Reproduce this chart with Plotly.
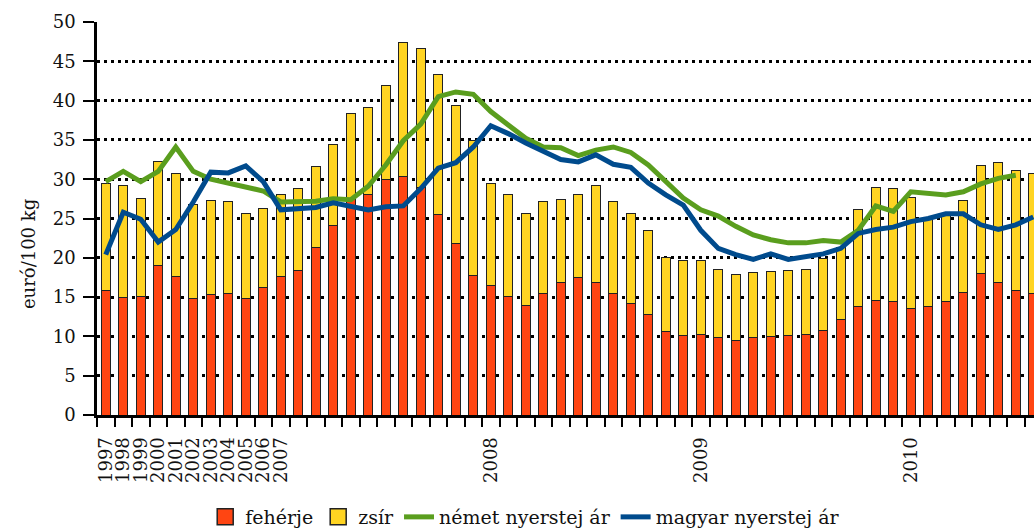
import plotly.graph_objects as go

# ---------------- data ----------------
years = ["1997", "1998", "1999", "2000", "2001", "2002", "2003", "2004", "2005", "2006", "2007"]
months = (["2007." + f"{m:02d}" for m in range(2, 13)] +
          ["2008." + f"{m:02d}" for m in range(1, 13)] +
          ["2009." + f"{m:02d}" for m in range(1, 13)] +
          ["2010." + f"{m:02d}" for m in range(1, 9)])
categories = years + months

tick_labels = {"1997": "1997", "1998": "1998", "1999": "1999", "2000": "2000", "2001": "2001",
               "2002": "2002", "2003": "2003", "2004": "2004", "2005": "2005", "2006": "2006",
               "2007": "2007", "2008.01": "2008", "2009.01": "2009", "2010.01": "2010"}

feherje = [15.8, 15.0, 15.1, 19.0, 17.6, 14.8, 15.3, 15.5, 14.8, 16.2, 17.6,
           18.4, 21.3, 24.1, 27.5, 28.0, 30.0, 30.3, 29.0, 25.5, 21.8, 17.7,
           16.5, 15.1, 13.9, 15.5, 16.9, 17.5, 16.8, 15.4, 14.2, 12.8, 10.6, 10.1,
           10.2, 9.9, 9.5, 9.8, 10.0, 10.1, 10.3, 10.8, 12.2, 13.8, 14.6, 14.4,
           13.6, 13.8, 14.5, 15.6, 18.0, 16.8, 15.8, 15.4]

zsir = [13.6, 14.2, 12.5, 13.2, 13.1, 12.0, 12.0, 11.7, 10.9, 10.1, 10.5,
        10.4, 10.3, 10.3, 10.8, 11.1, 11.9, 17.1, 17.6, 17.8, 17.6, 17.2,
        12.9, 12.9, 11.8, 11.6, 10.5, 10.5, 12.4, 11.8, 11.5, 10.7, 9.5, 9.5,
        9.5, 8.6, 8.4, 8.3, 8.2, 8.3, 8.2, 9.1, 9.1, 12.4, 14.4, 14.4,
        14.1, 11.2, 11.1, 11.7, 13.8, 15.3, 15.3, 15.3]

nemet = [29.7, 31.0, 29.7, 31.0, 34.1, 31.0, 30.0, 29.5, 28.9, 28.5, 27.1,
         27.2, 27.2, 27.5, 27.4, 29.1, 31.8, 34.9, 37.0, 40.5, 41.1, 40.8,
         38.6, 36.9, 35.2, 34.1, 34.0, 33.0, 33.7, 34.1, 33.4, 31.8, 29.7, 27.6,
         26.1, 25.3, 24.0, 22.9, 22.3, 21.9, 21.9, 22.2, 22.0, 23.5, 26.6, 25.9,
         28.4, 28.2, 28.0, 28.4, 29.4, 30.1, 30.5, None]

magyar = [20.4, 25.8, 24.9, 22.0, 23.6, 27.1, 30.9, 30.8, 31.7, 29.7, 26.1,
          26.3, 26.4, 27.0, 26.6, 26.1, 26.5, 26.6, 28.8, 31.4, 32.1, 34.1,
          36.8, 35.8, 34.6, 33.6, 32.5, 32.2, 33.1, 31.9, 31.5, 29.5, 28.0, 26.7,
          23.5, 21.2, 20.4, 19.8, 20.5, 19.8, 20.1, 20.5, 21.2, 23.1, 23.6, 23.9,
          24.6, 25.0, 25.6, 25.6, 24.2, 23.6, 24.2, 25.2]

# ---------------- styles ----------------
RED = "#FF4512"
YELLOW = "#FFD422"
GREEN = "#5A9E1E"
BLUE = "#004B8D"
FONT = "DejaVu Serif"
FS = 18

fig = go.Figure()
fig.add_trace(go.Bar(x=categories, y=feherje, name="fehérje", marker_color=RED,
                     marker_line=dict(color="#222222", width=1), showlegend=False))
fig.add_trace(go.Bar(x=categories, y=zsir, name="zsír", marker_color=YELLOW,
                     marker_line=dict(color="#222222", width=1), showlegend=False))
fig.add_trace(go.Scatter(x=categories, y=nemet, name="német nyerstej ár", mode="lines",
                         line=dict(color=GREEN, width=5), showlegend=False))
fig.add_trace(go.Scatter(x=categories, y=magyar, name="magyar nyerstej ár", mode="lines",
                         line=dict(color=BLUE, width=5), showlegend=False))

# legend entries
for nm, col in [("fehérje", RED), ("zsír", YELLOW)]:
    fig.add_trace(go.Scatter(x=[None], y=[None], name=nm, mode="markers",
                             marker=dict(symbol="square", size=16, color=col,
                                         line=dict(color="#222222", width=1.5))))
for nm, col in [("német nyerstej ár", GREEN), ("magyar nyerstej ár", BLUE)]:
    fig.add_trace(go.Scatter(x=[None], y=[None], name=nm, mode="lines",
                             line=dict(color=col, width=5)))

fig.update_layout(
    barmode="stack",
    bargap=0.5,
    width=1034, height=530, autosize=False,
    margin=dict(l=97, r=0, t=22, b=115),
    plot_bgcolor="white", paper_bgcolor="white",
    font=dict(family=FONT, size=FS, color="#111111"),
    legend=dict(orientation="h", x=0.457, xanchor="center",
                yref="container", y=0.0245, yanchor="middle",
                font=dict(family=FONT, size=19, color="#111111"), traceorder="normal",
                itemwidth=30),
    annotations=[dict(text="euró/100 kg", textangle=-90, xref="paper", yref="paper",
                      x=-0.0725, y=0.4097, xanchor="center", yanchor="middle",
                      showarrow=False, font=dict(family=FONT, size=FS, color="#111111"))],
)

fig.update_xaxes(
    type="category", categoryorder="array", categoryarray=categories,
    tickmode="array", tickvals=categories,
    ticktext=[tick_labels.get(c, "") for c in categories],
    tickson="boundaries", ticks="outside", ticklen=9, tickwidth=2, tickcolor="black",
    tickangle=-90, tickfont=dict(family=FONT, size=FS, color="#111111"),
    ticklabelstandoff=12,
    showline=True, linecolor="black", linewidth=3,
    showgrid=False, range=[-0.5, 53.04],
)
fig.update_yaxes(
    range=[0, 50], dtick=5, tick0=0,
    ticks="outside", ticklen=11, tickwidth=2, tickcolor="black",
    tickfont=dict(family=FONT, size=FS, color="#111111"),
    ticklabelstandoff=4,
    showline=True, linecolor="black", linewidth=2.5,
    showgrid=True, gridcolor="black", gridwidth=2.5, griddash="3px,4px",
    zeroline=False,
)

fig.write_html("out.html", config={"displayModeBar": False},
               post_script="document.body.style.margin='0';document.body.style.overflow='hidden';")
